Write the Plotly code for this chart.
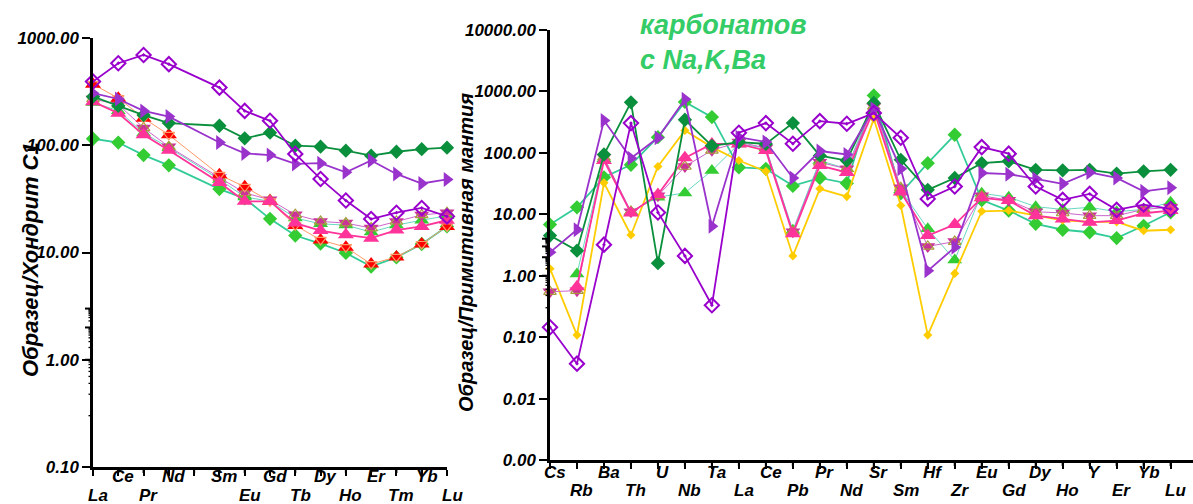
import math
import plotly.graph_objects as go

W, H = 1193, 504

# ---------------- categories ----------------
ree_cats = ["La", "Ce", "Pr", "Nd", "Pm", "Sm", "Eu", "Gd", "Tb", "Dy", "Ho", "Er", "Tm", "Yb", "Lu"]
ree_labels = ["La", "Ce", "Pr", "Nd", "", "Sm", "Eu", "Gd", "Tb", "Dy", "Ho", "Er", "Tm", "Yb", "Lu"]
ree_low = [True, False, True, False, False, False, True, False, True, False, True, False, True, False, True]

sp_cats = ["Cs", "Rb", "Ba", "Th", "U", "Nb", "Ta", "La", "Ce", "Pb", "Pr", "Nd", "Sr", "Sm",
           "Hf", "Zr", "Eu", "Gd", "Dy", "Ho", "Y", "Er", "Yb", "Lu"]
sp_low = [i % 2 == 1 for i in range(len(sp_cats))]

# REE (chondrite C1) values, Pm = None
ree_purple_diamond = [392, 582, 695, 570, None, 345, 209, 169, 83, 48.5, 30.5, 20.5, 23.5, 26, 21.7]
ree_dark_green = [284, 233, 191, 161, None, 152, 116, 131, 99, 97, 89, 80, 87, 92, 95]
ree_purple_tri = [306, 270, 209, 185, None, 106, 84, 81, 67, 68, 56, 72, 54, 44, 48]
ree_light_green = [115, 106, 81, 65, None, 39, 32, 20.6, 14.4, 12.1, 9.9, 7.4, 9.0, 12, 17.5]
ree_red = [371, 275, 179, 125, None, 53, 41, 30, 17.9, 13.1, 11.2, 7.8, 9.1, 12, 17.5]
ree_pink = [255, 199, 125, 90, None, 45, 30, 30, 18.8, 16, 14.6, 13.6, 16.2, 17.5, 20]
ree_magenta = [270, 240, 145, 97, None, 50, 36, 31, 22.5, 19.5, 18.8, 16.9, 19.5, 22.4, 23.5]
ree_green_tri = [250, 210, 130, 95, None, 48, 33, 30, 21, 18.5, 18, 15.5, 18, 20, 22]

# Spider (primitive mantle) values
sp_purple_diamond = [0.145, 0.037, 3.2, 305, 10.7, 2.1, 0.33, 213, 305, 141, 329, 298, 444, 176,
                     17.8, 28.3, 124, 97, 28.3, 17.2, 21.5, 11.8, 14.4, 12.2]
sp_dark_green = [4.5, 2.56, 94, 665, 1.6, 346, 130, 150, 140, 305, 90, 75, 650, 77,
                 25, 39, 68, 73, 53, 52, 53, 46, 50, 53]
sp_purple_tri = [2.4, 5.6, 337, 82, 176, 745, 6.4, 180, 150, 39, 107, 94, 520, 55,
                 1.2, 2.9, 47, 45, 37.8, 31.3, 48, 39, 23.7, 27]
sp_light_green = [6.8, 13, 40, 64, 180, 675, 382, 58, 55, 29, 39, 32, 860, 22,
                  68, 197, 17, 11.5, 7, 5.6, 5.1, 4.1, 6.5, 10.8]
sp_yellow = [1.3, 0.108, 32.5, 4.6, 60, 232, 124, 75, 50, 2.1, 26, 19.4, 360, 13.9,
             0.108, 1.09, 11.2, 11.5, 9.5, 8, 7.5, 7.5, 5.4, 5.6]
sp_pink = [None, 0.66, 75, 10.5, 21, 83, 140, 140, 109, 4.8, 62, 48, 500, 23,
           4.5, 6.8, 18.5, 16.7, 9.5, 8.4, 7.4, 7.9, 10.4, 11.5]
sp_magenta = [0.55, 0.57, 85, 11, 20, 60, 110, 150, 120, 5.2, 70, 55, 570, 27,
              3.0, 3.6, 20, 17, 11, 10.5, 9.5, 9.5, 12, 13]
sp_green_tri = [None, 1.07, 80, 11, 19, 22.3, 51.5, 140, 120, 5.5, 75, 55, 700, 25,
                5.8, 1.8, 22, 19, 13.3, 12, 13, 11, 12, 15.7]

FONT = "Liberation Sans, Arial, sans-serif"

fig = go.Figure()


def add(x, y, xa, ya, line_color, line_w, symbol, msize, mcolor, mline=None, mlw=0):
    fig.add_trace(go.Scatter(
        x=x, y=y, xaxis=xa, yaxis=ya, mode="lines+markers", connectgaps=True,
        line=dict(color=line_color, width=line_w),
        marker=dict(symbol=symbol, size=msize, color=mcolor,
                    line=dict(color=mline or mcolor, width=mlw)),
        showlegend=False, hoverinfo="skip", cliponaxis=False))


def overlay(x, y, xa, ya, symbol, msize, color, lw):
    fig.add_trace(go.Scatter(
        x=x, y=y, xaxis=xa, yaxis=ya, mode="markers",
        marker=dict(symbol=symbol, size=msize, color=color, line=dict(color=color, width=lw)),
        showlegend=False, hoverinfo="skip", cliponaxis=False))


for xa, ya, cats, s in [
    ("x", "y", ree_cats, dict(pd=ree_purple_diamond, dg=ree_dark_green, pt=ree_purple_tri,
                              lg=ree_light_green, rd=ree_red, pk=ree_pink, mg=ree_magenta,
                              gt=ree_green_tri, yl=None)),
    ("x2", "y2", sp_cats, dict(pd=sp_purple_diamond, dg=sp_dark_green, pt=sp_purple_tri,
                               lg=sp_light_green, rd=None, pk=sp_pink, mg=sp_magenta,
                               gt=sp_green_tri, yl=sp_yellow)),
]:
    add(cats, s["gt"], xa, ya, "#66D9C0", 1, "triangle-up", 13, "#33CC33")
    add(cats, s["lg"], xa, ya, "#33CC99", 1.8, "diamond", 11, "#33CC33")
    if s["yl"] is not None:
        add(cats, s["yl"], xa, ya, "#FFCC00", 1.8, "diamond", 7, "#FFCC00")
    add(cats, s["mg"], xa, ya, "#CC66CC", 1, "triangle-down", 13, "#CC3399")
    overlay(cats, s["mg"], xa, ya, "triangle-up-open", 11, "#A89A3A", 1.2)
    if s["rd"] is not None:
        add(cats, s["rd"], xa, ya, "#FF9966", 1, "triangle-up", 14, "#FF0000")
        overlay(cats, s["rd"], xa, ya, "triangle-down-open", 10, "#FF9966", 1.2)
    add(cats, s["pk"], xa, ya, "#FF3399", 1.8, "triangle-up", 14, "#FF3399")
    add(cats, s["dg"], xa, ya, "#0A8F3C", 1.8, "diamond", 11, "#0A8F3C")
    add(cats, s["pt"], xa, ya, "#9933CC", 1.8, "triangle-right", 13, "#9933CC")
    add(cats, s["pd"], xa, ya, "#9900CC", 1.8, "diamond-open-dot", 11, "#9900CC", mlw=2)


def px_x(p):
    return p / W


def px_y(p):
    return 1 - p / H


tickfont = dict(family=FONT, size=17, color="black", weight="bold", style="italic")

common_x = dict(type="category", showgrid=False, zeroline=False, showline=True, linecolor="black",
                linewidth=2.5, ticks="outside", ticklen=6, tickwidth=2, tickcolor="black",
                showticklabels=False, automargin=False)
common_y = dict(type="log", showgrid=False, zeroline=False, showline=True, linecolor="black",
                linewidth=2.5, ticks="outside", ticklen=8, tickwidth=2.2, tickcolor="black",
                tickfont=tickfont, tickformat=".2f", tickmode="linear", tick0=0, dtick=1,
                automargin=False)

# axis tick marks drawn as shapes (major + minor on log axes, one per category on x)
shapes = []
for yref, xref_dom, lo, hi, width_px in [("y", "x domain", -1, 3, 354), ("y2", "x2 domain", -3, 4, 643)]:
    for e in range(lo, hi + 1):
        shapes.append(dict(type="line", xref=xref_dom, yref=yref, x0=0, x1=-8 / width_px,
                           y0=e, y1=e, line=dict(color="black", width=2)))
        if e < hi:
            for m in range(2, 10):
                v = math.log10(m) + e
                shapes.append(dict(type="line", xref=xref_dom, yref=yref, x0=0, x1=-4.5 / width_px,
                                   y0=v, y1=v, line=dict(color="black", width=1.3)))
for xref, yref_dom, cats, height_px in [("x", "y domain", ree_cats, 429), ("x2", "y2 domain", sp_cats, 430)]:
    for c in cats:
        shapes.append(dict(type="line", xref=xref, yref=yref_dom, x0=c, x1=c, y0=0, y1=-6 / height_px,
                           line=dict(color="black", width=2)))

annotations = []
for cats, labels, lows, xref, yhi, ylo in [
    (ree_cats, ree_labels, ree_low, "x", 476, 495),
    (sp_cats, sp_cats, sp_low, "x2", 472, 490),
]:
    for c, t, low in zip(cats, labels, lows):
        if not t:
            continue
        annotations.append(dict(text=t, x=c, xref=xref, yref="paper", y=px_y(ylo if low else yhi),
                                xanchor="center", yanchor="middle", xshift=5, showarrow=False,
                                font=tickfont))

annotations += [
    dict(text="Образец/Хондрит С1", xref="paper", yref="paper", x=px_x(30), y=px_y(260),
         xanchor="center", yanchor="middle", textangle=-90, showarrow=False,
         font=dict(family=FONT, size=22, color="black", weight="bold", style="italic")),
    dict(text="Образец/Примитивная мантия", xref="paper", yref="paper", x=px_x(466), y=px_y(253),
         xanchor="center", yanchor="middle", textangle=-90, showarrow=False,
         font=dict(family=FONT, size=20, color="black", weight="bold", style="italic")),
    dict(text="карбонатов<br>с Na,K,Ba", xref="paper", yref="paper", x=px_x(638), y=px_y(8),
         xanchor="left", yanchor="top", align="left", showarrow=False,
         font=dict(family=FONT, size=27, color="#33CC66", weight="bold", style="italic")),
]

fig.update_layout(
    template="none",
    width=W, height=H, margin=dict(l=0, r=0, t=0, b=0, autoexpand=False),
    paper_bgcolor="white", plot_bgcolor="white",
    xaxis=dict(common_x, domain=[px_x(93), px_x(447)], anchor="y", range=[0, 14],
               categoryorder="array", categoryarray=ree_cats),
    yaxis=dict(common_y, domain=[px_y(467), px_y(38)], anchor="x", range=[-1, 3]),
    xaxis2=dict(common_x, domain=[px_x(550), 1.0], anchor="y2", range=[0, 23.83],
                categoryorder="array", categoryarray=sp_cats),
    yaxis2=dict(common_y, domain=[px_y(460), px_y(30)], anchor="x2", range=[-3, 4]),
    shapes=shapes,
    annotations=annotations,
)

fig.write_html("out.html", config={"displayModeBar": False},
               post_script="document.body.style.margin='0';document.body.style.overflow='hidden';")
